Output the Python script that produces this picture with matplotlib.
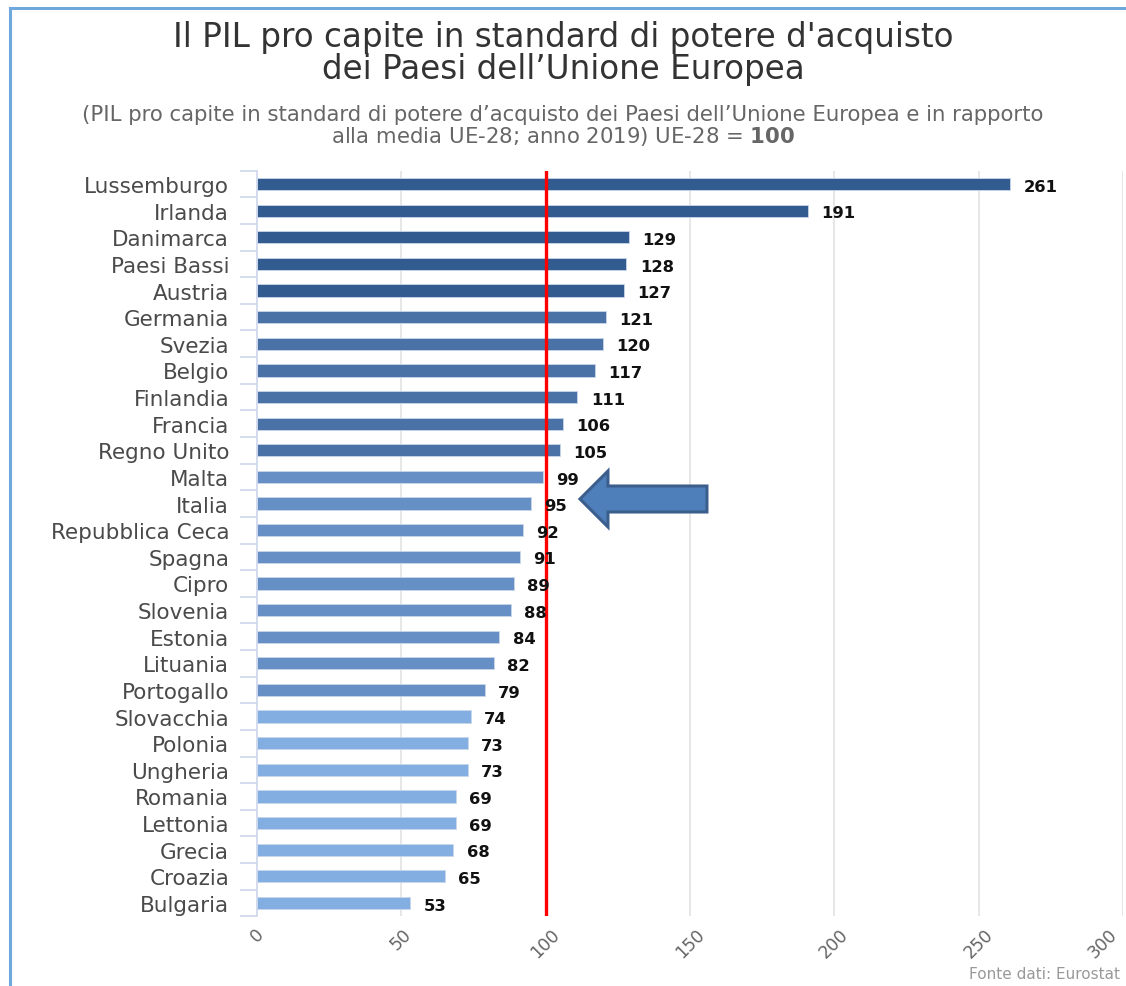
import matplotlib
matplotlib.use("Agg")
import matplotlib.pyplot as plt
from matplotlib.patches import Polygon
from matplotlib.lines import Line2D
from matplotlib.transforms import ScaledTranslation
import numpy as np

countries = ["Lussemburgo", "Irlanda", "Danimarca", "Paesi Bassi", "Austria", "Germania",
             "Svezia", "Belgio", "Finlandia", "Francia", "Regno Unito", "Malta", "Italia",
             "Repubblica Ceca", "Spagna", "Cipro", "Slovenia", "Estonia", "Lituania",
             "Portogallo", "Slovacchia", "Polonia", "Ungheria", "Romania", "Lettonia",
             "Grecia", "Croazia", "Bulgaria"]
values = [261, 191, 129, 128, 127, 121, 120, 117, 111, 106, 105, 99, 95, 92, 91, 89, 88,
          84, 82, 79, 74, 73, 73, 69, 69, 68, 65, 53]
group_colors = ["#325b8f"] * 5 + ["#4a72a6"] * 6 + ["#6690c5"] * 9 + ["#82aee2"] * 8
x_ticks = [0, 50, 100, 150, 200, 250, 300]
reference_value = 100

W, H = 1126, 987
fig = plt.figure(figsize=(W / 100, H / 100), dpi=100)
left, right = 257 / W, 1123 / W
top, bottom = 1 - 171.7 / H, 1 - 917.3 / H
ax = fig.add_axes([left, bottom, right - left, top - bottom])

y = np.arange(len(countries))
ax.barh(y, values, height=0.46, color=group_colors, edgecolor="#c9d6ea", linewidth=0.6, zorder=2)
ax.set_xlim(0, 300)
ax.set_ylim(len(countries) - 0.5, -0.5)

for yi, v in zip(y, values):
    ax.text(v + 4.6, yi + 0.08, str(v), va="center", ha="left", fontsize=11.8,
            fontweight="bold", color="#111111", zorder=4)

# gridlines
for t in x_ticks[1:]:
    ax.axvline(t, color="#e3e3e3", lw=1.2, zorder=1)
ax.axvline(reference_value, color="#ff0000", lw=2.4, zorder=3)

for s in ["top", "right", "bottom"]:
    ax.spines[s].set_visible(False)
ax.spines["left"].set_color("#ccd6eb")
ax.spines["left"].set_linewidth(1.2)

ax.set_yticks(y)
ax.set_yticklabels(countries, fontsize=15.5, color="#4a4a4a")
ax.tick_params(axis="y", which="major", length=0, pad=20)
ax.set_yticks(np.arange(-0.5, len(countries), 1), minor=True)
ax.tick_params(axis="y", which="minor", length=12, color="#ccd6eb", width=1.2)

ax.set_xticks(x_ticks)
ax.set_xticklabels([str(t) for t in x_ticks], rotation=45, ha="center", va="top",
                   fontsize=12.5, color="#666666")
ax.tick_params(axis="x", length=0, pad=6)
last = ax.get_xticklabels()[-1]
last.set_transform(last.get_transform() + ScaledTranslation(-20 / 100, 0, fig.dpi_scale_trans))

# arrow pointing at Italia
px = lambda p: (p - 257) / 2.887
py = lambda p: (p - 185) / 26.63
arrow_pts = [(px(580), py(500)), (px(608), py(472)), (px(608), py(487)), (px(707), py(487)),
             (px(707), py(513)), (px(608), py(513)), (px(608), py(528))]
ax.add_patch(Polygon(arrow_pts, closed=True, facecolor="#4f7fbb", edgecolor="#3b5e8c",
                     lw=2.2, zorder=5, clip_on=False))

# titles
fig.text(0.5, 1 - 38 / H, "Il PIL pro capite in standard di potere d'acquisto", ha="center",
         va="center", fontsize=23.5, color="#333333")
fig.text(0.5, 1 - 70 / H, "dei Paesi dell\u2019Unione Europea", ha="center", va="center",
         fontsize=23.5, color="#333333")
fig.text(0.5, 1 - 115 / H,
         "(PIL pro capite in standard di potere d\u2019acquisto dei Paesi dell\u2019Unione Europea e in rapporto",
         ha="center", va="center", fontsize=15.3, color="#666666")
fig.text(0.5, 1 - 137 / H, "alla media UE-28; anno 2019) UE-28 = $\\bf{100}$", ha="center",
         va="center", fontsize=15.3, color="#666666")
fig.text(1120 / W, 1 - 975 / H, "Fonte dati: Eurostat", ha="right", va="center",
         fontsize=11, color="#999999")

# frame lines
fig.add_artist(Line2D([10 / W, 10 / W], [0, 1 - 9 / H], color="#6fa8dc", lw=2.2))
fig.add_artist(Line2D([10 / W, 1], [1 - 9 / H, 1 - 9 / H], color="#6fa8dc", lw=2.2))

fig.savefig("out.png", dpi=100)
